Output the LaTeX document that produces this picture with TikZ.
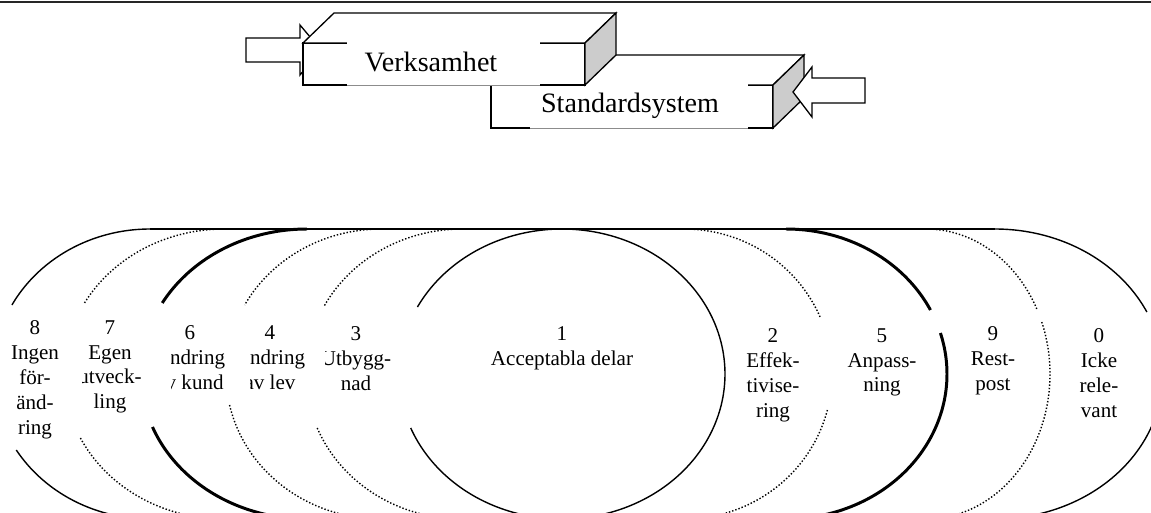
\documentclass[tikz,border=0pt]{standalone}
\usepackage{fontspec}
\setmainfont{Liberation Serif}
% left and right halves of the nested ellipses: style, centre x, x radius, angle range
\newcommand\arcL[5]{\draw[#1] plot[domain=#4:#5, samples=50, smooth] ({#2-#3*cos(\x)},{374+145*sin(\x)});}
\newcommand\arcR[5]{\draw[#1] plot[domain=#4:#5, samples=50, smooth] ({#2+#3*cos(\x)},{374+145*sin(\x)});}
\begin{document}
\begin{tikzpicture}[x=0.57pt,y=-0.57pt,
  thinline/.style={line width=0.8pt},
  thickline/.style={line width=1.7pt},
  dotline/.style={line width=0.8pt, dash pattern=on 0.8pt off 1.1pt},
  lbl/.style={inner sep=0pt, anchor=north, align=center, font=\fontsize{12}{14.2}\selectfont},
  boxtext/.style={inner sep=0pt, anchor=base, font=\fontsize{16}{19}\selectfont},
  face/.style={draw=black, line width=0.75pt, line join=miter, fill=white},
  sideface/.style={draw=black, line width=0.75pt, line join=miter, fill=black!20},
  tbline/.style={draw=black!45, line width=0.4pt}
]
\useasboundingbox (0,0) rectangle (1151,513);
\clip (0,0) rectangle (1151,513);

% rule along the top edge
\draw[line width=1.1pt, black!85] (0,1.8) -- (1151,1.8);

% ---- cuboid: Standardsystem ----
\draw[face] (491,85) rectangle (773,128);
\draw[face] (491,85) -- (522,55) -- (804,55) -- (773,85) -- cycle;
\draw[sideface] (773,85) -- (804,55) -- (804,98) -- (773,128) -- cycle;
\fill[white] (530,84) rectangle (748,127.6);
\draw[tbline] (530,128) -- (748,128);
\node[boxtext] (std) at (630,113) {Standardsystem};

% block arrow entering from the right
\draw[face] (865,78) -- (812,78) -- (812,67) -- (793,92) -- (812,117) -- (812,103) -- (865,103) -- cycle;

% block arrow entering from the left (behind the cuboid)
\draw[face] (246,38) -- (300,38) -- (300,25) -- (321,50) -- (300,75) -- (300,62) -- (246,62) -- cycle;

% ---- cuboid: Verksamhet ----
\draw[face] (303,43) rectangle (585,85);
\draw[face] (303,43) -- (334,13) -- (616,13) -- (585,43) -- cycle;
\draw[sideface] (585,43) -- (616,13) -- (616,55) -- (585,85) -- cycle;
\fill[white] (347,41) rectangle (540,85.2);
\draw[tbline] (347,85.5) -- (540,85.5);
\node[boxtext] (verk) at (431,72) {Verksamhet};

% ---- nested classification rings ----
\draw[thinline] (150,229) -- (995,229);
\draw[thickline] (307,229) -- (786,229);

% left boundaries
\arcL{thinline}{150}{157}{-90}{-28.42}
\arcL{thinline}{150}{157}{31.61}{90}
\arcL{dotline}{224}{160}{-90}{-29.32}
\arcL{dotline}{224}{160}{26.19}{90}
\arcL{thickline}{307}{166}{-90}{-29.32}
\arcL{thickline}{307}{166}{21.44}{90}
\arcL{dotline}{381}{155}{-90}{-28.42}
\arcL{dotline}{381}{155}{12.34}{90}
\arcL{dotline}{462}{156}{-90}{-27.52}
\arcL{dotline}{462}{156}{21.86}{90}
\arcL{thinline}{562}{163}{-90}{-27.52}
\arcL{thinline}{562}{163}{21.86}{90}

% right boundaries
\arcR{thinline}{562}{163}{-90}{90}
\arcR{dotline}{684}{148}{-90}{-22.72}
\arcR{dotline}{684}{148}{14.38}{90}
\arcR{thickline}{786}{161}{-90}{-26.19}
\arcR{thickline}{786}{161}{-16.43}{90}
\arcR{dotline}{926}{124}{-90}{-26.19}
\arcR{dotline}{926}{124}{-21.01}{90}
\arcR{thinline}{995}{168}{-90}{-25.32}
\arcR{thinline}{995}{168}{19.75}{90}

% ring labels
\node[lbl] (l8) at (35,320) {8\\Ingen\\för-\\änd-\\ring};
\begin{scope}
  \clip (82,300) rectangle (165,460);
  \node[lbl] (l7) at (110,320) {7\\Egen\\utveck-\\ling};
\end{scope}
\begin{scope}
  \clip (171,300) rectangle (240,460);
  \node[lbl] (l6) at (190,325) {6\\Ändring\\av kund};
\end{scope}
\begin{scope}
  \clip (250,300) rectangle (320,460);
  \node[lbl] (l4) at (270,325) {4\\Ändring\\av lev};
\end{scope}
\begin{scope}
  \clip (325,300) rectangle (400,460);
  \node[lbl] (l3) at (356,326) {3\\Utbygg-\\nad};
\end{scope}
\node[lbl] (l1) at (562,326) {1\\Acceptabla delar};
\node[lbl] (l2) at (773,328) {2\\Effek-\\tivise-\\ring};
\node[lbl] (l5) at (882,328) {5\\Anpass-\\ning};
\node[lbl] (l9) at (993,326) {9\\Rest-\\post};
\node[lbl] (l0) at (1099,328) {0\\Icke\\rele-\\vant};
\end{tikzpicture}
\end{document}
